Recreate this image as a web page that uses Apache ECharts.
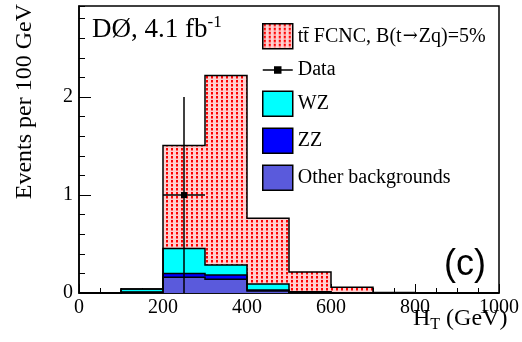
<!DOCTYPE html>
<html>
<head>
<meta charset="utf-8">
<script src="https://cdn.jsdelivr.net/npm/echarts@6/dist/echarts.min.js"></script>
<style>
html,body{margin:0;padding:0;background:#fff;}
#chart{width:522px;height:342px;}
</style>
</head>
<body>
<div id="chart"></div>
<script>
// ---- data ----
const binLow = [0, 100, 200, 300, 400, 500, 600, 700, 800, 900];
const binWidth = 100;
const otherBkg = [0, 0.006, 0.16, 0.14, 0.02, 0.004, 0, 0, 0, 0];
const zzBkg    = [0, 0.004, 0.04, 0.045, 0.01, 0.003, 0, 0, 0, 0];
const wzBkg    = [0, 0.03, 0.255, 0.10, 0.062, 0.006, 0.002, 0, 0, 0];
const signal   = [0, 0.002, 1.05, 1.935, 0.672, 0.202, 0.056, 0.004, 0, 0];
const dataX = [250];
const dataY = [1];
const dataErrLow = [1];
const dataErrHigh = [1];
const dataXErr = [50];
const xTicks = [0, 200, 400, 600, 800, 1000];
const yTicks = [0, 1, 2];
const names = ['Other backgrounds', 'ZZ', 'WZ', 'signal'];

// ---- pattern for signal ----
function makePattern() {
  const c = document.createElement('canvas');
  c.width = 5; c.height = 4;
  const g = c.getContext('2d');
  g.fillStyle = '#ffd0d0'; g.fillRect(0, 0, 5, 4);
  g.fillStyle = '#ff0000'; g.fillRect(1, 0, 2, 2);
  g.fillStyle = '#ff6a6a'; g.fillRect(1, 2, 2, 1);
  return c;
}
const pat = { image: makePattern(), repeat: 'repeat' };

const comps = [otherBkg, zzBkg, wzBkg, signal];
const fills = ['#5a5adc', '#0000ff', '#00ffff', pat];

// cumulative stack levels
const levels = [];
let acc = binLow.map(() => 0);
levels.push(acc.slice());
comps.forEach(c => { acc = acc.map((v, i) => v + c[i]); levels.push(acc.slice()); });

const series = [];
comps.forEach((c, k) => {
  series.push({
    type: 'custom',
    name: names[k],
    coordinateSystem: 'cartesian2d',
    itemStyle: { color: fills[k] },
    encode: { x: [0, 1], y: [2, 3] },
    data: binLow.map((lo, i) => [lo, lo + binWidth, levels[k][i], levels[k + 1][i]]),
    renderItem: function (params, api) {
      const p0 = api.coord([api.value(0), api.value(3)]);
      const p1 = api.coord([api.value(1), api.value(2)]);
      if (api.value(3) - api.value(2) <= 0) return null;
      return {
        type: 'rect',
        shape: { x: p0[0], y: p0[1], width: p1[0] - p0[0], height: p1[1] - p0[1] },
        style: { fill: fills[k] }
      };
    },
    z: 2
  });
});
// outlines of each histogram (step contours)
series.push({
  type: 'custom',
  name: 'outline',
  coordinateSystem: 'cartesian2d',
  silent: true,
  data: [1, 2, 3, 4].map(k => [k]),
  encode: { x: -1, y: -1 },
  renderItem: function (params, api) {
    const k = api.value(0);
    const lv = levels[k];
    const pts = [api.coord([binLow[0], 0])];
    binLow.forEach((lo, i) => {
      pts.push(api.coord([lo, lv[i]]));
      pts.push(api.coord([lo + binWidth, lv[i]]));
    });
    pts.push(api.coord([binLow[binLow.length - 1] + binWidth, 0]));
    return {
      type: 'polyline',
      shape: { points: pts },
      style: { stroke: '#000', lineWidth: 1.5, fill: null }
    };
  },
  z: 3
});
// data error bars
series.push({
  type: 'custom',
  name: 'Data',
  coordinateSystem: 'cartesian2d',
  itemStyle: { color: '#000' },
  data: dataX.map((x, i) => [x, dataY[i], dataErrLow[i], dataErrHigh[i], dataXErr[i]]),
  encode: { x: 0, y: 1 },
  renderItem: function (params, api) {
    const x = api.value(0), y = api.value(1);
    const a = api.coord([x, y - api.value(2)]);
    const b = api.coord([x, y + api.value(3)]);
    const l = api.coord([x - api.value(4), y]);
    const r = api.coord([x + api.value(4), y]);
    const c = api.coord([x, y]);
    return {
      type: 'group',
      children: [
        { type: 'line', shape: { x1: a[0], y1: a[1], x2: b[0], y2: b[1] }, style: { stroke: '#000', lineWidth: 1.5 } },
        { type: 'line', shape: { x1: l[0], y1: l[1], x2: r[0], y2: r[1] }, style: { stroke: '#000', lineWidth: 1.5 } },
        { type: 'rect', shape: { x: c[0] - 3, y: c[1] - 3, width: 6, height: 6 }, style: { fill: '#000' } }
      ]
    };
  },
  z: 4
});

const serif = 'Liberation Serif';
const chart = echarts.init(document.getElementById('chart'), null, { renderer: 'canvas' });
chart.setOption({
  animation: false,
  backgroundColor: '#fff',
  grid: { left: 79, right: 15, top: 6, bottom: 49, show: true, borderColor: '#000', borderWidth: 1.5, backgroundColor: 'transparent' },
  xAxis: {
    type: 'value', min: xTicks[0], max: xTicks[xTicks.length - 1], interval: xTicks[1] - xTicks[0],
    axisLine: { show: true, lineStyle: { color: '#000', width: 1.5 } },
    axisTick: { show: true, inside: true, length: 9, lineStyle: { color: '#000', width: 1 } },
    minorTick: { show: true, splitNumber: 4, length: 5, lineStyle: { color: '#000', width: 1 } },
    splitLine: { show: false },
    axisLabel: { color: '#000', fontFamily: serif, fontSize: 20, margin: 5, formatter: v => String(v) }
  },
  yAxis: [{
    type: 'value', min: 0, max: 2.93, interval: yTicks[1] - yTicks[0],
    axisLine: { show: true, lineStyle: { color: '#000', width: 1.5 } },
    axisTick: { show: true, inside: true, length: 12, lineStyle: { color: '#000', width: 1 } },
    minorTick: { show: false },
    splitLine: { show: false },
    axisLabel: { color: '#000', fontFamily: serif, fontSize: 20, margin: 6, showMaxLabel: false,
      formatter: v => (yTicks.indexOf(v) >= 0 ? String(v) : '') }
  }, {
    type: 'value', min: 0, max: 2.93, interval: 0.2, position: 'left',
    axisLine: { show: false },
    axisTick: { show: true, inside: true, length: 6, lineStyle: { color: '#000', width: 1 } },
    axisLabel: { show: false },
    splitLine: { show: false }
  }],
  legend: {
    orient: 'vertical', left: 262, top: 23, padding: 0, itemWidth: 30, itemHeight: 25, itemGap: 10.5,
    textStyle: { fontFamily: serif, fontSize: 20, color: '#000',
      rich: {
        a: { fontFamily: serif, fontSize: 20, color: '#000' },
        r: { fontFamily: 'DejaVu Serif', fontSize: 18, color: '#000', padding: [0, 1, 0, 1] }
      } },
    selectedMode: false,
    formatter: function (n) {
      if (n === 'signal') return '{a|t\u0074\u0304 FCNC, B(t}{r|\u2192}{a|Zq)=5%}';
      return n;
    },
    data: [
      { name: names[3], icon: 'rect', itemStyle: { color: pat, borderColor: '#000', borderWidth: 1.5 } },
      { name: 'Data', icon: 'path://M0,3 L30,3 M12,0 L18,0 L18,6 L12,6 Z', itemStyle: { color: '#000', borderColor: '#000', borderWidth: 1.5 } },
      { name: names[2], icon: 'rect', itemStyle: { color: '#00ffff', borderColor: '#000', borderWidth: 1.5 } },
      { name: names[1], icon: 'rect', itemStyle: { color: '#0000ff', borderColor: '#000', borderWidth: 1.5 } },
      { name: names[0], icon: 'rect', itemStyle: { color: '#5a5adc', borderColor: '#000', borderWidth: 1.5 } }
    ]
  },
  graphic: [
    { type: 'text', left: 92, top: 14, style: { rich: { a: { fontFamily: serif, fontSize: 27, fill: '#000' }, s: { fontFamily: serif, fontSize: 17, fill: '#000', verticalAlign: 'top', padding: [0, 0, 14, 0] } }, text: '{a|DØ, 4.1 fb}{s|-1}', fill: '#000' } },
    { type: 'text', left: 444, top: 247, style: { text: '(c)', fontFamily: 'Liberation Sans', fontSize: 36, fill: '#000' } },
    { type: 'text', x: 25, y: 4, rotation: Math.PI / 2, style: { text: 'Events per 100 GeV', fontFamily: serif, fontSize: 24, fill: '#000', align: 'right', verticalAlign: 'middle' } },
    { type: 'text', left: 413, top: 307, style: { rich: { a: { fontFamily: serif, fontSize: 24, fill: '#000' }, t: { fontFamily: serif, fontSize: 16, fill: '#000', padding: [12, 0, 0, 0] } }, text: '{a|H}{t|T}{a| (GeV)}' } }
  ],
  series: series
});
</script>
</body>
</html>
